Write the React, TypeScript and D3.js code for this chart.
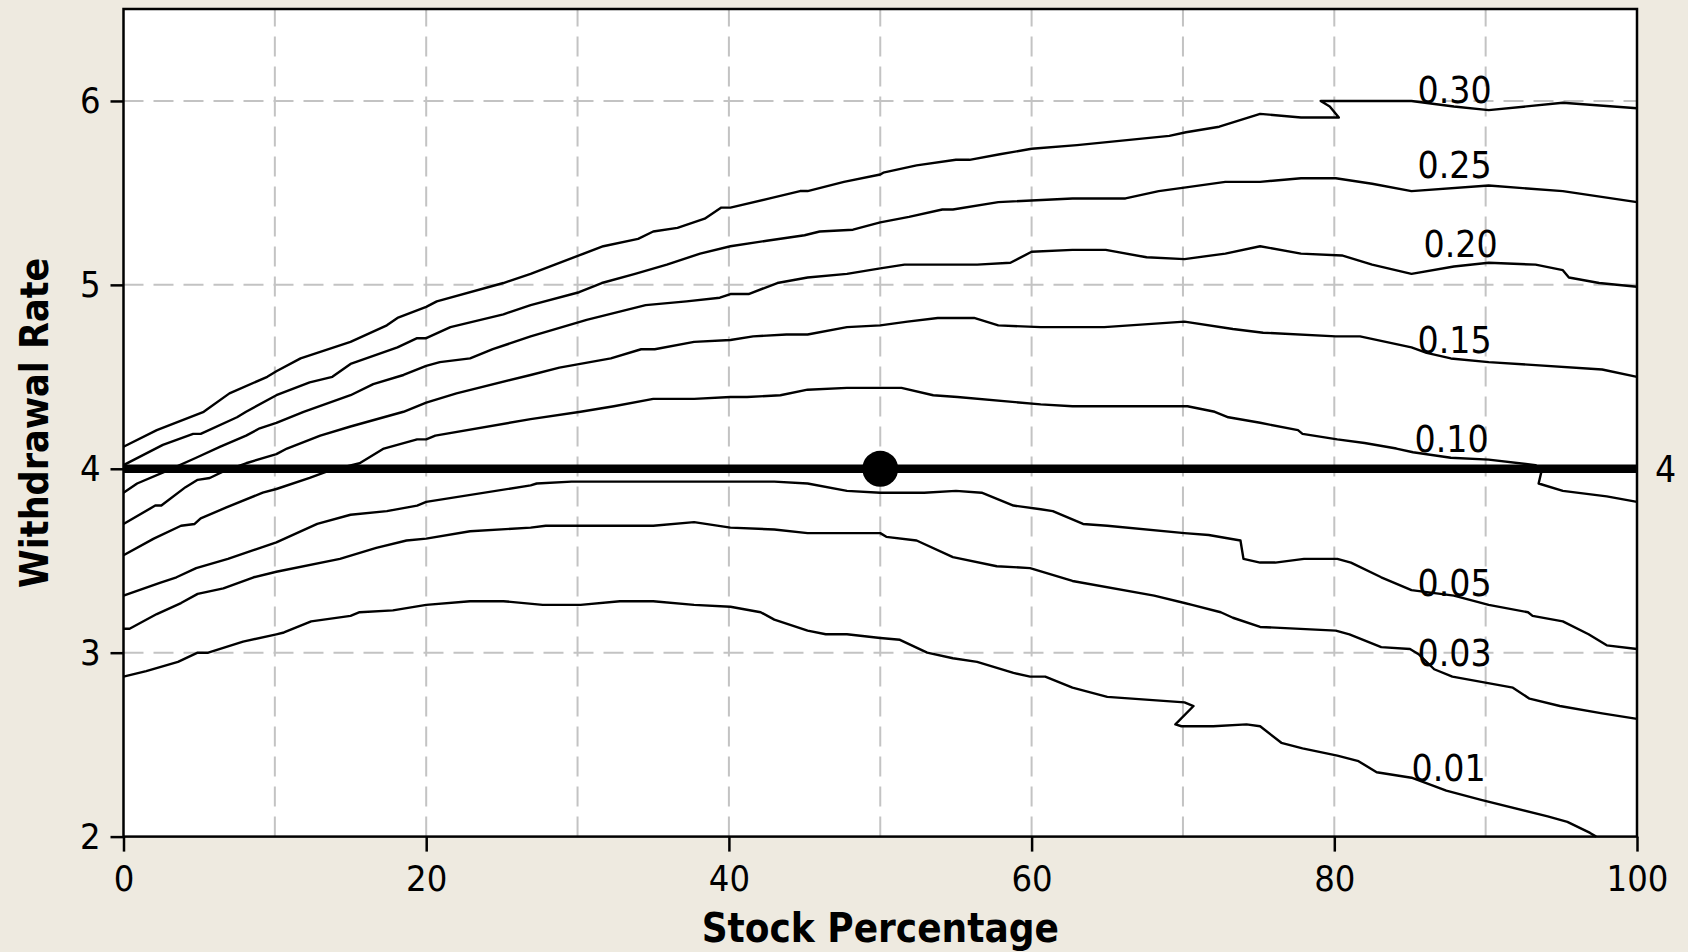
import React, { useEffect, useRef } from "react";
import * as d3 from "d3";

type Pt = [number, number]; // [stock %, withdrawal rate]

const levels = ["0.30", "0.25", "0.20", "0.15", "0.10", "0.05", "0.03", "0.01"];

const c030: Pt[] = [
  [0, 4.12], [2.2, 4.21], [5.3, 4.31], [7.0, 4.41], [9.5, 4.5], [10.1, 4.53], [11.7, 4.6],
  [15.0, 4.69], [17.4, 4.78], [18.1, 4.82], [20.0, 4.88], [20.7, 4.91], [25.1, 5.01],
  [26.9, 5.06], [28.5, 5.11], [30.1, 5.16], [31.7, 5.21], [34.0, 5.25], [35.0, 5.29],
  [36.6, 5.31], [38.4, 5.36], [39.5, 5.42], [40.1, 5.42], [42.7, 5.47], [44.7, 5.51],
  [45.2, 5.51], [47.6, 5.56], [50.0, 5.6], [50.2, 5.61], [52.4, 5.65], [55.0, 5.68],
  [55.9, 5.68], [57.9, 5.71], [60.0, 5.74], [63.0, 5.76], [69.1, 5.81], [70.2, 5.83],
  [72.4, 5.86], [75.1, 5.93], [77.8, 5.91], [80.3, 5.91], [79.7, 5.97], [79.1, 6.0],
  [85.1, 6.0], [87.9, 5.97], [90.2, 5.95], [95.1, 5.99], [100, 5.96],
];

const c025: Pt[] = [
  [0, 4.02], [2.6, 4.13], [4.6, 4.19], [5.1, 4.19], [7.5, 4.28], [8.1, 4.31], [10.1, 4.4],
  [12.3, 4.47], [13.8, 4.5], [15.0, 4.57], [18.1, 4.66], [19.4, 4.71], [20.0, 4.71],
  [21.6, 4.77], [25.1, 4.84], [26.9, 4.89], [30.1, 4.96], [31.6, 5.01], [33.8, 5.06],
  [35.9, 5.11], [38.1, 5.17], [40.1, 5.21], [42.5, 5.24], [45.0, 5.27], [46.0, 5.29],
  [48.2, 5.3], [50.0, 5.34], [51.9, 5.37], [54.1, 5.41], [54.8, 5.41], [57.8, 5.45],
  [62.7, 5.47], [66.2, 5.47], [68.4, 5.51], [70.2, 5.53], [72.8, 5.56], [75.1, 5.56],
  [77.8, 5.58], [80.1, 5.58], [82.5, 5.55], [85.1, 5.51], [90.2, 5.54], [95.1, 5.51],
  [100, 5.45],
];

const c020: Pt[] = [
  [0, 3.87], [0.9, 3.92], [2.9, 3.99], [4.8, 4.06], [6.4, 4.12], [8.1, 4.18], [9.0, 4.22],
  [10.1, 4.25], [11.9, 4.31], [15.0, 4.4], [16.5, 4.46], [18.5, 4.51], [20.0, 4.56],
  [20.9, 4.58], [22.9, 4.6], [24.4, 4.65], [26.9, 4.72], [30.6, 4.81], [34.5, 4.89],
  [37.2, 4.91], [39.4, 4.93], [40.1, 4.95], [41.3, 4.95], [43.2, 5.01], [45.2, 5.04],
  [47.8, 5.06], [50.0, 5.09], [51.6, 5.11], [56.4, 5.11], [58.6, 5.12], [60.0, 5.18],
  [62.7, 5.19], [64.9, 5.19], [67.6, 5.15], [70.1, 5.14], [72.8, 5.17], [75.1, 5.21],
  [77.8, 5.17], [80.5, 5.16], [82.5, 5.11], [85.1, 5.06], [87.9, 5.1], [90.2, 5.12],
  [93.3, 5.11], [95.1, 5.08], [95.5, 5.04], [97.5, 5.01], [100, 4.99],
];

const c015: Pt[] = [
  [0, 3.7], [2.1, 3.8], [2.5, 3.8], [4.1, 3.9], [4.9, 3.94], [5.7, 3.95], [6.7, 3.99],
  [8.1, 4.03], [10.1, 4.08], [10.8, 4.11], [13.0, 4.18], [15.0, 4.23], [18.5, 4.31],
  [20.0, 4.36], [22.0, 4.41], [26.9, 4.51], [28.8, 4.55], [32.2, 4.6], [34.2, 4.65],
  [35.1, 4.65], [37.7, 4.69], [40.1, 4.7], [41.6, 4.72], [43.8, 4.73], [45.2, 4.73],
  [47.8, 4.77], [50.0, 4.78], [51.8, 4.8], [53.8, 4.82], [56.2, 4.82], [57.8, 4.78],
  [60.6, 4.77], [64.8, 4.77], [70.1, 4.8], [73.3, 4.76], [75.3, 4.74], [80.1, 4.72],
  [81.7, 4.72], [85.1, 4.66], [86.1, 4.63], [87.7, 4.6], [90.2, 4.58], [97.7, 4.54],
  [100, 4.5],
];

const c010: Pt[] = [
  [0, 3.53], [2.0, 3.62], [3.8, 3.69], [4.7, 3.7], [5.1, 3.73], [6.8, 3.79], [9.2, 3.87],
  [10.1, 3.89], [12.3, 3.95], [13.6, 3.99], [15.6, 4.03], [17.2, 4.11], [19.4, 4.16],
  [20.0, 4.16], [20.6, 4.18], [26.9, 4.27], [30.2, 4.31], [32.4, 4.34], [35.0, 4.38],
  [37.7, 4.38], [40.1, 4.39], [41.2, 4.39], [43.4, 4.4], [45.2, 4.43], [47.8, 4.44],
  [51.4, 4.44], [53.5, 4.4], [55.1, 4.39], [60.6, 4.35], [62.7, 4.34], [70.3, 4.34],
  [72.1, 4.31], [73.0, 4.28], [75.1, 4.25], [77.6, 4.21], [77.9, 4.19], [80.2, 4.16],
  [82.0, 4.14], [84.1, 4.11], [85.2, 4.09], [87.7, 4.06], [90.2, 4.05], [93.3, 4.02],
  [93.7, 3.99], [93.5, 3.92], [95.1, 3.88], [98.0, 3.85], [100, 3.82],
];

const c005: Pt[] = [
  [0, 3.31], [2.4, 3.38], [3.5, 3.41], [4.8, 3.46], [6.9, 3.51], [10.1, 3.6], [12.8, 3.7],
  [15.0, 3.75], [17.4, 3.77], [19.4, 3.8], [20.0, 3.82], [26.9, 3.91], [27.3, 3.92],
  [29.6, 3.93], [35.0, 3.93], [43.0, 3.93], [45.2, 3.92], [47.8, 3.88], [50.0, 3.87],
  [52.9, 3.87], [55.0, 3.88], [56.7, 3.87], [58.8, 3.8], [60.6, 3.78], [61.4, 3.77],
  [63.4, 3.7], [65.0, 3.69], [70.1, 3.65], [71.7, 3.64], [73.8, 3.61], [74.0, 3.51],
  [75.1, 3.49], [76.1, 3.49], [78.0, 3.51], [80.2, 3.51], [81.1, 3.49], [83.1, 3.41],
  [85.1, 3.34], [87.9, 3.31], [90.2, 3.26], [92.8, 3.22], [93.1, 3.2], [95.1, 3.17],
  [96.8, 3.1], [98.0, 3.04], [100, 3.02],
];

const c003: Pt[] = [
  [0, 3.13], [0.4, 3.13], [2.2, 3.21], [3.8, 3.27], [4.9, 3.32], [6.6, 3.35], [8.6, 3.41],
  [10.1, 3.44], [14.3, 3.51], [16.7, 3.57], [18.7, 3.61], [20.0, 3.62], [22.9, 3.66],
  [26.9, 3.68], [27.9, 3.69], [35.0, 3.69], [37.7, 3.71], [40.1, 3.68], [43.0, 3.67],
  [45.2, 3.65], [50.0, 3.65], [50.4, 3.63], [52.4, 3.61], [54.8, 3.52], [57.7, 3.47],
  [59.9, 3.46], [62.7, 3.39], [68.1, 3.31], [70.1, 3.27], [70.6, 3.26], [72.5, 3.22],
  [73.3, 3.19], [75.1, 3.14], [80.1, 3.12], [81.0, 3.1], [83.1, 3.03], [85.0, 3.02],
  [85.6, 2.99], [86.6, 2.91], [87.8, 2.87], [91.8, 2.81], [92.9, 2.75], [94.9, 2.71],
  [97.7, 2.67], [100, 2.64],
];

const c001: Pt[] = [
  [0, 2.87], [1.5, 2.9], [3.6, 2.95], [4.9, 3.0], [5.6, 3.0], [7.9, 3.06], [10.1, 3.1],
  [10.6, 3.11], [12.4, 3.17], [15.0, 3.2], [15.6, 3.22], [17.8, 3.23], [20.0, 3.26],
  [22.9, 3.28], [25.1, 3.28], [27.7, 3.26], [30.2, 3.26], [32.8, 3.28], [35.0, 3.28],
  [37.7, 3.26], [40.1, 3.25], [42.1, 3.22], [43.0, 3.18], [45.2, 3.12], [46.4, 3.1],
  [47.8, 3.1], [50.0, 3.08], [51.3, 3.07], [53.1, 3.0], [54.8, 2.97], [56.4, 2.95],
  [58.8, 2.89], [59.9, 2.87], [60.9, 2.87], [62.7, 2.81], [65.0, 2.76], [70.1, 2.73],
  [70.7, 2.71], [69.5, 2.61], [69.9, 2.6], [72.0, 2.6], [74.2, 2.61], [75.1, 2.6],
  [76.5, 2.51], [77.9, 2.48], [80.2, 2.44], [81.6, 2.41], [82.8, 2.35], [85.1, 2.32],
  [87.4, 2.25], [89.7, 2.2], [94.1, 2.11], [95.4, 2.08], [96.9, 2.02], [97.3, 2.0],
];

const contours: Pt[][] = [c030, c025, c020, c015, c010, c005, c003, c001];

// left edge / baseline of each level label, in data units
const labelAt: Pt[] = [
  [85.5, 5.99], [85.5, 5.58], [85.9, 5.15], [85.5, 4.63],
  [85.3, 4.09], [85.5, 3.31], [85.5, 2.93], [85.1, 2.3],
];

const xTicks = [0, 20, 40, 60, 80, 100];
const yTicks = [2, 3, 4, 5, 6];
const xGrid = [10, 20, 30, 40, 50, 60, 70, 80, 90];
const yGrid = [3, 4, 5, 6];
const chosen = { stock: 50, rate: 4 };

const W = 1688;
const H = 952;
const margin = { top: 9, right: 51, bottom: 115.4, left: 123.5 };
const font = "'DejaVu Sans Condensed', 'DejaVu Sans', sans-serif";

export default function App() {
  const svgRef = useRef<SVGSVGElement>(null);

  useEffect(() => {
    const svg = d3.select(svgRef.current);
    svg.selectAll("*").remove();

    const x = d3.scaleLinear().domain([0, 100]).range([margin.left, W - margin.right]);
    const y = d3.scaleLinear().domain([2, 6.5]).range([H - margin.bottom, margin.top]);

    svg.append("rect").attr("width", W).attr("height", H).attr("fill", "#eeeae0");
    svg
      .append("rect")
      .attr("x", x(0))
      .attr("y", y(6.5))
      .attr("width", x(100) - x(0))
      .attr("height", y(2) - y(6.5))
      .attr("fill", "#fff");

    // dashed grid
    const grid = svg
      .append("g")
      .attr("stroke", "#c3c3c3")
      .attr("stroke-width", 2)
      .attr("stroke-dasharray", "20,10");
    xGrid.forEach((v) => {
      grid.append("line").attr("x1", x(v)).attr("x2", x(v)).attr("y1", y(2)).attr("y2", y(6.5));
    });
    yGrid.forEach((v) => {
      grid.append("line").attr("x1", x(0)).attr("x2", x(100)).attr("y1", y(v)).attr("y2", y(v));
    });

    // contour lines
    const line = d3
      .line<Pt>()
      .x((d) => x(d[0]))
      .y((d) => y(d[1]));
    svg
      .append("g")
      .selectAll("path")
      .data(contours)
      .join("path")
      .attr("d", (d) => line(d))
      .attr("fill", "none")
      .attr("stroke", "#000")
      .attr("stroke-width", 2.4)
      .attr("stroke-linejoin", "round");

    // 4% rule line and the 50/50 point
    svg
      .append("line")
      .attr("x1", x(0))
      .attr("x2", x(100))
      .attr("y1", y(chosen.rate))
      .attr("y2", y(chosen.rate))
      .attr("stroke", "#000")
      .attr("stroke-width", 8.5);
    svg
      .append("circle")
      .attr("cx", x(chosen.stock))
      .attr("cy", y(chosen.rate))
      .attr("r", 18)
      .attr("fill", "#000");

    // frame
    svg
      .append("rect")
      .attr("x", x(0))
      .attr("y", y(6.5))
      .attr("width", x(100) - x(0))
      .attr("height", y(2) - y(6.5))
      .attr("fill", "none")
      .attr("stroke", "#000")
      .attr("stroke-width", 2.5);

    // axes
    const yAxis = svg
      .append("g")
      .attr("transform", `translate(${x(0)},0)`)
      .call(d3.axisLeft(y).tickValues(yTicks).tickSize(13).tickPadding(10).tickFormat(d3.format("d")));
    const xAxis = svg
      .append("g")
      .attr("transform", `translate(0,${y(2)})`)
      .call(d3.axisBottom(x).tickValues(xTicks).tickSize(15).tickPadding(14).tickFormat(d3.format("d")));
    [xAxis, yAxis].forEach((a) => {
      a.select(".domain").remove();
      a.selectAll(".tick line").attr("stroke", "#000").attr("stroke-width", 2.5);
      a.selectAll(".tick text")
        .attr("fill", "#000")
        .attr("font-family", font)
        .attr("font-size", 36);
    });

    // right-hand "4"
    svg
      .append("text")
      .text(String(chosen.rate))
      .attr("x", x(100) + 18)
      .attr("y", y(chosen.rate))
      .attr("dy", "0.36em")
      .attr("font-family", font)
      .attr("font-size", 37);

    // level labels
    svg
      .append("g")
      .selectAll("text")
      .data(levels)
      .join("text")
      .text((d) => d)
      .attr("x", (_, i) => x(labelAt[i][0]))
      .attr("y", (_, i) => y(labelAt[i][1]))
      .attr("font-family", font)
      .attr("font-size", 37);

    // axis titles
    svg
      .append("text")
      .text("Stock Percentage")
      .attr("x", (x(0) + x(100)) / 2)
      .attr("y", 942)
      .attr("text-anchor", "middle")
      .attr("font-family", font)
      .attr("font-weight", "bold")
      .attr("font-size", 40);
    svg
      .append("text")
      .text("Withdrawal Rate")
      .attr("transform", `translate(48,${(y(2) + y(6.5)) / 2}) rotate(-90)`)
      .attr("text-anchor", "middle")
      .attr("font-family", font)
      .attr("font-weight", "bold")
      .attr("font-size", 39);
  }, []);

  return (
    <svg
      ref={svgRef}
      width={W}
      height={H}
      style={{ position: "absolute", left: 0, top: 0, display: "block" }}
    />
  );
}
